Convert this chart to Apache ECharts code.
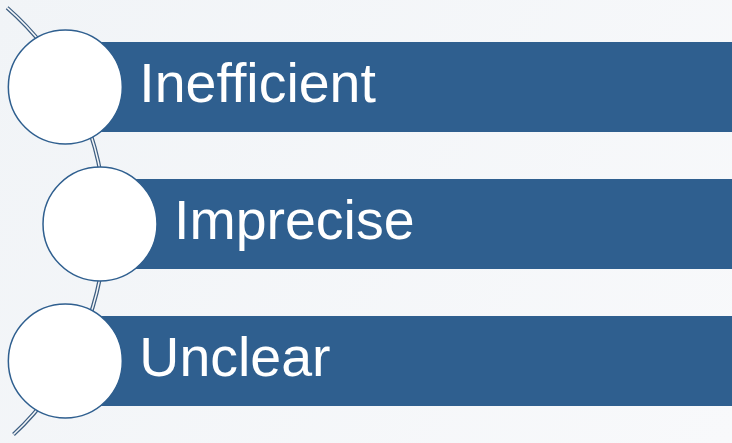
<!DOCTYPE html>
<html>
<head>
<meta charset="utf-8">
<script src="https://cdn.jsdelivr.net/npm/echarts@6/dist/echarts.min.js"></script>
<style>
  html, body { margin: 0; padding: 0; }
  #chart { width: 732px; height: 443px; }
</style>
</head>
<body>
<div id="chart"></div>
<script>
const categories = ['Inefficient', 'Imprecise', 'Unclear'];
const itemIndex = [0, 1, 2];

const barColor = '#2f5f8f';
// big arc that the circles hang on
const arcCx = -183;
const arcCy = 224;
const arcR = 288;

function arcX(y) {
  const dy = y - arcCy;
  return arcCx + Math.sqrt(arcR * arcR - dy * dy);
}

const chart = echarts.init(document.getElementById('chart'));

const option = {
  backgroundColor: {
    type: 'linear', x: 0, y: 0, x2: 1, y2: 1,
    colorStops: [
      { offset: 0, color: '#f1f4f7' },
      { offset: 1, color: '#f8f9fb' }
    ]
  },
  animation: false,
  grid: { left: 0, right: 0, top: 18.5, bottom: 13.5 },
  xAxis: { type: 'value', min: 0, max: 732, show: false },
  yAxis: { type: 'category', data: categories, inverse: true, show: false },
  graphic: [{
    type: 'arc',
    z: 0,
    shape: { cx: arcCx, cy: arcCy, r: arcR, startAngle: -0.85, endAngle: 0.82 },
    style: { fill: null, stroke: '#3e5f82', lineWidth: 4 }
  }, {
    type: 'arc',
    z: 1,
    shape: { cx: arcCx, cy: arcCy, r: arcR, startAngle: -0.85, endAngle: 0.82 },
    style: { fill: null, stroke: '#f4f6f9', lineWidth: 1.5 }
  }],
  series: [{
    type: 'custom',
    z: 5,
    data: itemIndex.map(i => [0, i]),
    renderItem: function (params, api) {
      const p = api.coord([0, api.value(1)]);
      const band = api.size([0, 1])[1];
      const cy = p[1];
      const cx = arcX(cy) - 5;
      const barH = band * 0.657;
      const r = band * 0.416;
      const barX = cx + 34;
      return {
        type: 'group',
        children: [{
          type: 'rect',
          shape: { x: barX, y: cy - barH / 2, width: 732 - barX, height: barH },
          style: { fill: barColor }
        }, {
          type: 'circle',
          shape: { cx: cx, cy: cy, r: r },
          style: { fill: '#ffffff', stroke: barColor, lineWidth: 1.5 }
        }, {
          type: 'text',
          style: {
            x: cx + 74,
            y: cy,
            text: categories[params.dataIndex],
            fill: '#ffffff',
            font: '55.5px "Liberation Sans", Arial, sans-serif',
            verticalAlign: 'middle',
            align: 'left'
          }
        }]
      };
    }
  }]
};

chart.setOption(option);
</script>
</body>
</html>
